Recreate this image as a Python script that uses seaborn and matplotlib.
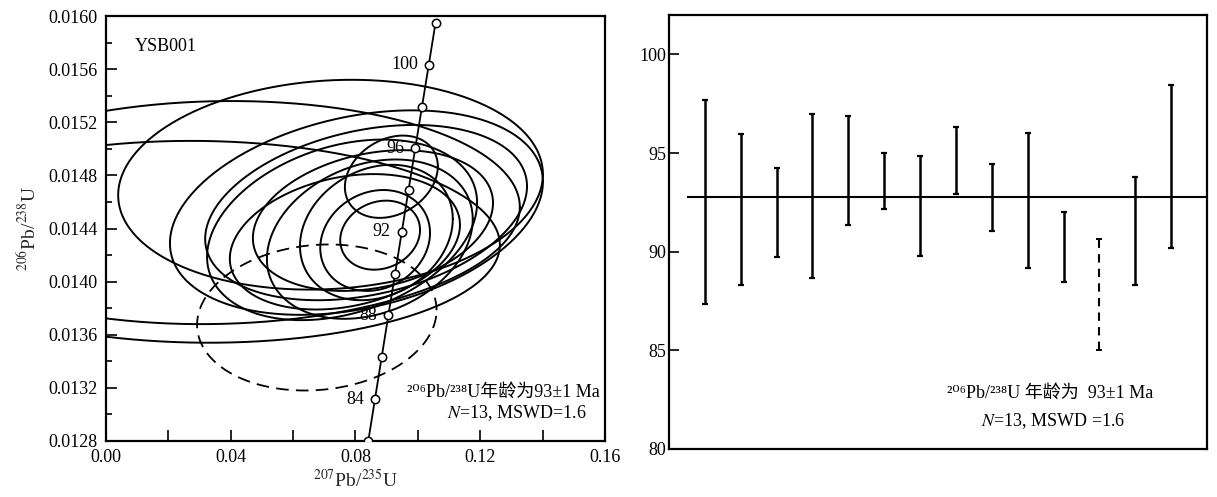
import numpy as np
import pandas as pd
import matplotlib
matplotlib.use('Agg')
import matplotlib.pyplot as plt
from matplotlib.ticker import MultipleLocator, FormatStrFormatter
import seaborn as sns

# estilo
sns.set_theme(style='ticks')
plt.rcParams['font.family'] = ['Liberation Serif', 'DejaVu Serif', 'Noto Sans CJK SC']
plt.rcParams['mathtext.fontset'] = 'stix'
plt.rcParams['axes.edgecolor'] = 'black'
plt.rcParams['xtick.color'] = 'black'
plt.rcParams['ytick.color'] = 'black'
plt.rcParams['text.color'] = 'black'

# --- datos: elipses (207Pb/235U, 206Pb/238U, errores, rho) ---
ell_x = [0.0915, 0.0867, 0.0846, 0.0856, 0.0757, 0.0863, 0.0879, 0.0834, 0.0803, 0.0720, 0.0354, 0.0301, 0.0766]
ell_y = [0.01479, 0.01437, 0.01432, 0.01446, 0.01439, 0.01431, 0.01435, 0.01452, 0.01452, 0.01473, 0.01452, 0.01430, 0.01430]
ell_sx = [0.0149, 0.0245, 0.0330, 0.0385, 0.0433, 0.0176, 0.0128, 0.0516, 0.0598, 0.0681, 0.0973, 0.0962, 0.0369]
ell_sy = [0.00031, 0.00051, 0.00060, 0.00053, 0.00068, 0.00038, 0.00026, 0.00066, 0.00077, 0.00079, 0.00084, 0.00076, 0.00051]
ell_rho = [0.25, 0.20, 0.25, 0.25, 0.30, 0.15, 0.15, 0.30, 0.30, 0.10, 0.05, -0.03, 0.25]

# elipse descartada (discontinua)
rej_x, rej_y, rej_sx, rej_sy, rej_rho = 0.0676, 0.01373, 0.0384, 0.00055, 0.10

# concordia
conc_age = [82, 84, 86, 88, 90, 92, 94, 96, 98, 100, 102]
conc_x = [0.08411, 0.08625, 0.08839, 0.09053, 0.09269, 0.09484, 0.09700, 0.09916, 0.10133, 0.10350, 0.10567]
conc_y = [0.012801, 0.013116, 0.013430, 0.013745, 0.014059, 0.014374, 0.014689, 0.015004, 0.015318, 0.015633, 0.015949]
conc_labels = [84, 88, 92, 96, 100]

# --- datos: edades 206Pb/238U ---
age_low = [87.35, 88.31, 89.71, 88.65, 91.37, 92.18, 89.76, 92.93, 91.05, 89.19, 88.49, 85.03, 88.31, 90.20]
age_high = [97.70, 95.99, 94.23, 96.97, 96.90, 94.99, 94.86, 96.31, 94.47, 96.00, 92.00, 90.64, 93.77, 98.46]
rejected = [False] * 11 + [True] + [False] * 2
mean_age = 92.75


def ellipse_df(cx, cy, sx, sy, r, uid):
    t = np.linspace(0, 2 * np.pi, 400)
    x = cx + sx * np.cos(t)
    y = cy + sy * (r * np.cos(t) + np.sqrt(1 - r * r) * np.sin(t))
    return pd.DataFrame({'x': x, 'y': y, 'id': uid})


fig = plt.figure(figsize=(12.17, 4.97), dpi=100)
ax1 = fig.add_axes([0.0871, 0.1127, 0.410, 0.855])
ax2 = fig.add_axes([0.5497, 0.0966, 0.4421, 0.8732])

# ---------------- panel izquierdo: concordia ----------------
df_ell = pd.concat([ellipse_df(*p, i) for i, p in
                    enumerate(zip(ell_x, ell_y, ell_sx, ell_sy, ell_rho))])
sns.lineplot(data=df_ell, x='x', y='y', units='id', estimator=None, sort=False,
             color='black', lw=1.4, ax=ax1, legend=False)
df_rej = ellipse_df(rej_x, rej_y, rej_sx, rej_sy, rej_rho, 99)
sns.lineplot(data=df_rej, x='x', y='y', estimator=None, sort=False,
             color='black', lw=1.3, linestyle=(0, (7, 4)), ax=ax1, legend=False)

sns.lineplot(x=conc_x, y=conc_y, sort=False, estimator=None, color='black', lw=1.3,
             marker='o', markersize=6, markerfacecolor='white',
             markeredgecolor='black', markeredgewidth=1.1, ax=ax1, zorder=5)
for age in conc_labels:
    i = conc_age.index(age)
    ax1.text(conc_x[i] - 0.0035, conc_y[i], str(age), ha='right', va='center',
             fontsize=13, zorder=6)

ax1.set_xlim(0, 0.16)
ax1.set_ylim(0.0128, 0.0160)
ax1.xaxis.set_major_locator(MultipleLocator(0.04))
ax1.xaxis.set_minor_locator(MultipleLocator(0.02))
ax1.yaxis.set_major_locator(MultipleLocator(0.0004))
ax1.yaxis.set_minor_locator(MultipleLocator(0.0002))
ax1.xaxis.set_major_formatter(FormatStrFormatter('%.2f'))
ax1.yaxis.set_major_formatter(FormatStrFormatter('%.4f'))
ax1.tick_params(which='major', direction='in', length=8, width=1.2, labelsize=13, pad=6)
ax1.tick_params(axis='x', which='minor', direction='in', length=8, width=1.2)
ax1.tick_params(axis='y', which='minor', direction='in', length=4, width=1.2)
ax1.set_xlabel(r'$^{207}$Pb/$^{235}$U', fontsize=14, labelpad=2)
ax1.set_ylabel(r'$^{206}$Pb/$^{238}$U', fontsize=14, labelpad=6)
for s in ax1.spines.values():
    s.set_linewidth(1.6)

ax1.text(0.058, 0.929, 'YSB001', transform=ax1.transAxes, fontsize=13, va='center')
ax1.text(0.99, 0.115, '²⁰⁶Pb/²³⁸U年龄为93±1 Ma', transform=ax1.transAxes,
         fontsize=13, ha='right', va='center', zorder=6)
ax1.text(0.964, 0.066, '$N$=13, MSWD=1.6', transform=ax1.transAxes,
         fontsize=13, ha='right', va='center', zorder=6)

# ---------------- panel derecho: edades ----------------
pos = np.arange(1, len(age_low) + 1)
lo = np.array(age_low)
hi = np.array(age_high)
mid = (lo + hi) / 2
err = (hi - lo) / 2
ok = ~np.array(rejected)

ax2.hlines(mean_age, 0.5, 15, color='black', lw=1.5)
ax2.errorbar(pos[ok], mid[ok], yerr=err[ok], fmt='none', ecolor='black',
             elinewidth=1.8, capsize=2.5, capthick=1.6)
eb = ax2.errorbar(pos[~ok], mid[~ok], yerr=err[~ok], fmt='none', ecolor='black',
                  elinewidth=1.5, capsize=2, capthick=1.4)
eb[2][0].set_linestyle((0, (4, 3)))

ax2.set_xlim(0, 15)
ax2.set_ylim(80, 102)
ax2.set_yticks([80, 85, 90, 95, 100])
ax2.set_xticks([])
ax2.tick_params(axis='y', direction='in', length=7, width=1.2, labelsize=13, pad=2)
for s in ax2.spines.values():
    s.set_linewidth(1.6)

ax2.text(0.708, 0.129, '²⁰⁶Pb/²³⁸U 年龄为  93±1 Ma', transform=ax2.transAxes,
         fontsize=13, ha='center', va='center')
ax2.text(0.713, 0.0645, '$N$=13, MSWD =1.6', transform=ax2.transAxes,
         fontsize=13, ha='center', va='center')

fig.savefig('out.png', dpi=100)
